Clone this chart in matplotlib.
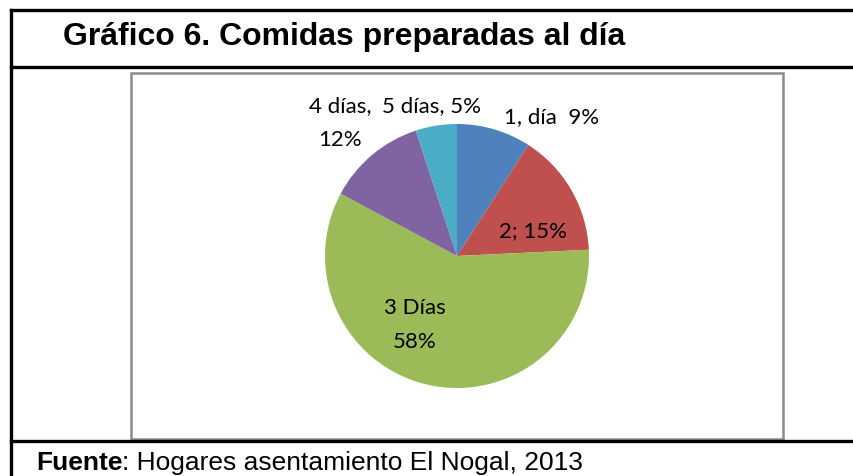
import matplotlib
matplotlib.use("Agg")
import matplotlib.pyplot as plt
from matplotlib.lines import Line2D
from matplotlib.patches import Rectangle

# ---- data ----
categories = ["1, día", "2", "3 Días", "4 días", "5 días"]
values = [9, 15, 58, 12, 5]
colors = ["#4F81BD", "#C0504D", "#9BBB59", "#8064A2", "#4BACC6"]
labels = ["1, día  9%", "2; 15%", "3 Días\n58%", "4 días,\n12%", "5 días, 5%"]

title = "Gráfico 6. Comidas preparadas al día"
source_bold = "Fuente"
source_rest = ": Hogares asentamiento El Nogal, 2013"

W, H = 854, 476
fig = plt.figure(figsize=(W / 100, H / 100), dpi=100)
fig.patch.set_facecolor("white")

# ---- pie (drawn first, labels go on the overlay above it) ----
cx, cy, r = 457, 256, 132
ax = fig.add_axes([(cx - r) / W, (H - cy - r) / H, 2 * r / W, 2 * r / H])
ax.pie(values, colors=colors, startangle=90, counterclock=False,
       wedgeprops=dict(linewidth=0))
ax.set_xlim(-1, 1)
ax.set_ylim(-1, 1)
ax.set_aspect("equal")
ax.axis("off")

# ---- overlay in pixel coordinates (y downwards) ----
ov = fig.add_axes([0, 0, 1, 1])
ov.set_xlim(0, W)
ov.set_ylim(H, 0)
ov.axis("off")
ov.patch.set_alpha(0)

# table lines
lw = 2.4
ov.add_line(Line2D([11, 11], [10, H], color="black", lw=lw))
for y in (10, 67, 441):
    ov.add_line(Line2D([11, W], [y, y], color="black", lw=lw))

# chart frame
ov.add_patch(Rectangle((131, 73), 652, 366, fill=False, edgecolor="#8C8C8C", lw=1.8))

# title and source
ov.text(63, 45, title, fontsize=23, fontweight="bold", family="Liberation Sans",
        va="baseline", ha="left")
t1 = ov.text(36, 470, source_bold, fontsize=19, fontweight="bold",
             family="Liberation Sans", va="baseline", ha="left")
ov.annotate(source_rest, xy=(1, 0), xycoords=t1, va="bottom", ha="left",
            fontsize=19, family="Liberation Sans")

# data labels: (center x, baseline of first line)
label_pos = [(552, 123), (533, 237), (415, 314), (340, 112), (432, 112)]
line_gap = 34
for (x, y), txt in zip(label_pos, labels):
    for k, line in enumerate(txt.split("\n")):
        ov.text(x, y + k * line_gap, line, fontsize=16, family="Lato",
                ha="center", va="baseline")

fig.savefig("out.png", dpi=100, facecolor="white")
